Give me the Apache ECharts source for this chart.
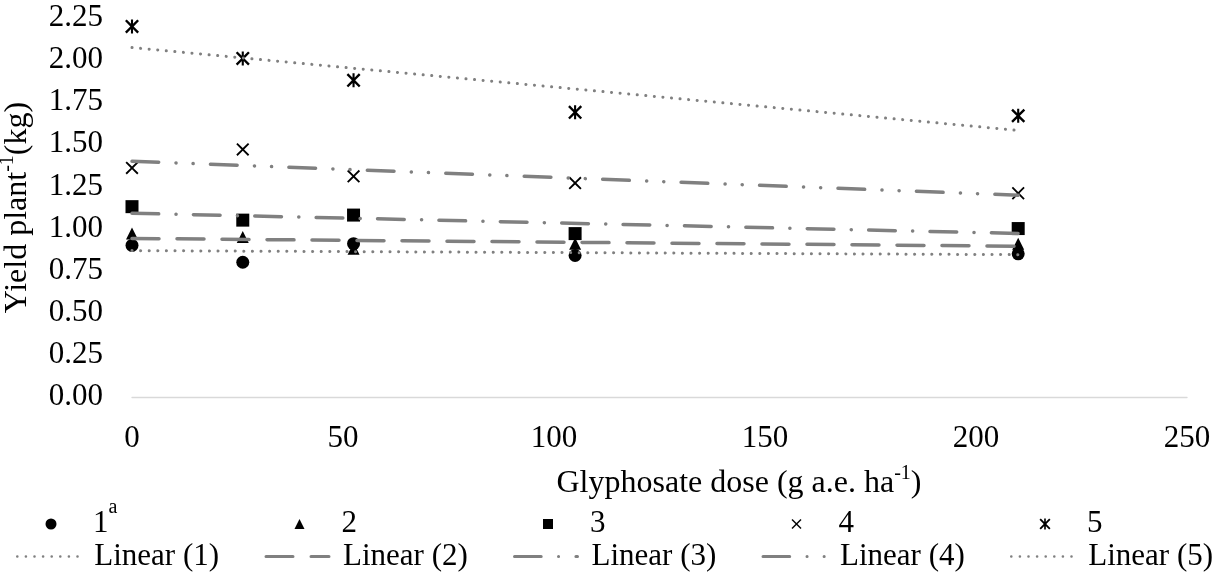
<!DOCTYPE html>
<html>
<head>
<meta charset="utf-8">
<title>Yield per plant vs glyphosate dose</title>
<script src="https://cdn.jsdelivr.net/npm/echarts@6/dist/echarts.min.js"></script>
<style>
  html, body { margin: 0; padding: 0; background: #ffffff; }
  #chart { width: 1228px; height: 575px; }
</style>
</head>
<body>
<div id="chart"></div>
<script>
// Glyphosate doses (g a.e. ha-1) and mean yield per plant (kg) for each group
const doses = [0, 26.25, 52.5, 105, 210];
const yield1 = [0.90, 0.80, 0.91, 0.84, 0.85];
const yield2 = [0.97, 0.95, 0.88, 0.91, 0.91];
const yield3 = [1.13, 1.05, 1.08, 0.97, 1.00];
const yield4 = [1.36, 1.47, 1.31, 1.27, 1.21];
const yield5 = [2.20, 2.01, 1.88, 1.69, 1.67];
const groupNames = ['1', '2', '3', '4', '5'];
const groupSuffix = ['a', '', '', '', ''];
const trendNames = ['Linear (1)', 'Linear (2)', 'Linear (3)', 'Linear (4)', 'Linear (5)'];
const xTicks = [0, 50, 100, 150, 200, 250];
const yTicks = [0, 0.25, 0.5, 0.75, 1.0, 1.25, 1.5, 1.75, 2.0, 2.25];

const groups = [yield1, yield2, yield3, yield4, yield5];
const FONT = '"Liberation Serif", "Times New Roman", serif';
const TREND_GREY = '#808080';

// Marker shapes: filled circle, triangle, square, a cross and a six-armed asterisk
const CROSS = 'path://M0,1L1,0L5,4L9,0L10,1L6,5L10,9L9,10L5,6L1,10L0,9L4,5Z';
const ASTERISK = 'path://M0,1.2L1.2,0L5,3.8L8.8,0L10,1.2L6.2,5L10,8.8L8.8,10L5,6.2L1.2,10L0,8.8L3.8,5Z M4.25,0L5.75,0L5.75,10L4.25,10Z';
const markerShapes = ['circle', 'triangle', 'rect', CROSS, ASTERISK];
const markerSizes = [13, 12, 13, 13, 14];
const legendMarkerSizes = [11, 10, 10, 10, 11];

// Trend line dash patterns: dotted, long dash, long dash-dot, long dash-dot-dot, dotted
const trendDash = [
  [0.1, 8.5],
  [27, 18],
  [26.7, 17.3, 0.1, 17.3],
  [26.7, 17.3, 0.1, 17, 0.1, 17.3],
  [0.1, 8.5]
];
const trendWidths = [3, 3.5, 3.5, 3.5, 3];

// Ordinary least-squares fit, used for the linear trend lines
function linearFit(xs, ys) {
  const n = xs.length;
  const mx = xs.reduce((a, b) => a + b, 0) / n;
  const my = ys.reduce((a, b) => a + b, 0) / n;
  let sxy = 0, sxx = 0;
  for (let i = 0; i < n; i++) {
    sxy += (xs[i] - mx) * (ys[i] - my);
    sxx += (xs[i] - mx) * (xs[i] - mx);
  }
  const slope = sxy / sxx;
  return { slope: slope, intercept: my - slope * mx };
}

const scatterSeries = groups.map((ys, i) => ({
  type: 'scatter',
  name: groupNames[i],
  data: doses.map((d, j) => [d, ys[j]]),
  symbol: markerShapes[i],
  symbolSize: markerSizes[i],
  itemStyle: { color: '#000000', opacity: 1 },
  emphasis: { disabled: true },
  silent: true,
  z: 2
}));

const trendSeries = groups.map((ys, i) => {
  const fit = linearFit(doses, ys);
  const x0 = doses[0], x1 = doses[doses.length - 1];
  return {
    type: 'line',
    name: trendNames[i],
    data: [[x0, fit.intercept + fit.slope * x0], [x1, fit.intercept + fit.slope * x1]],
    symbol: 'none',
    showSymbol: false,
    itemStyle: { color: TREND_GREY },
    lineStyle: { color: TREND_GREY, width: trendWidths[i], type: trendDash[i], cap: 'round' },
    emphasis: { disabled: true },
    silent: true,
    z: 3
  };
});

// Legend: five columns, markers on the first row, trend lines on the second
const colStart = [16, 264.5, 513, 761.5, 1010];
const sampleWidth = 63;
const textOffset = 77;
const row1Top = 498;
const row2Top = 541;

const legends = [];
groupNames.forEach((name, i) => {
  const s = legendMarkerSizes[i];
  const left = colStart[i] + 35 - s / 2;
  const pad = (colStart[i] + textOffset) - (left + s + 5);
  legends.push({
    data: [name],
    left: left,
    top: row1Top,
    padding: 0,
    itemWidth: s,
    itemHeight: s,
    selectedMode: false,
    // every entry carries a superscript slot so all five share one layout
    formatter: n => '{n|' + n + '}{s|' + (groupSuffix[i] || ' ') + '}',
    textStyle: {
      color: '#000', fontFamily: FONT, fontSize: 31, padding: [0, 0, 0, pad],
      rich: {
        n: { fontFamily: FONT, fontSize: 31, lineHeight: 52, color: '#000' },
        s: { fontFamily: FONT, fontSize: 20, lineHeight: 20, verticalAlign: 'top', color: '#000' }
      }
    }
  });
});
trendNames.forEach((name, i) => {
  legends.push({
    data: [name],
    left: colStart[i],
    top: row2Top,
    padding: 0,
    itemWidth: sampleWidth,
    itemHeight: 10,
    selectedMode: false,
    itemStyle: { opacity: 0 },
    lineStyle: { color: TREND_GREY, width: trendWidths[i] - 0.5, type: trendDash[i], cap: 'round' },
    textStyle: {
      color: '#000', fontFamily: FONT, fontSize: 31,
      padding: [0, 0, 0, textOffset - sampleWidth - 5]
    }
  });
});

const supRich = { s: { fontFamily: FONT, fontSize: 20, lineHeight: 20, verticalAlign: 'top', color: '#000' } };

const option = {
  backgroundColor: '#ffffff',
  animation: false,
  textStyle: { fontFamily: FONT },
  grid: { left: 132, right: 41, top: 18, bottom: 178, containLabel: false, outerBoundsMode: 'none' },
  xAxis: {
    type: 'value',
    min: xTicks[0],
    max: xTicks[xTicks.length - 1],
    interval: xTicks[1] - xTicks[0],
    axisLine: { show: true, lineStyle: { color: '#d9d9d9', width: 1.3 } },
    axisTick: { show: false },
    splitLine: { show: false },
    axisLabel: { color: '#000', fontFamily: FONT, fontSize: 31, margin: 26 },
    name: 'Glyphosate dose (g a.e. ha{s|-1})',
    nameLocation: 'middle',
    nameGap: 67,
    nameTextStyle: {
      color: '#000', fontFamily: FONT, fontSize: 32, lineHeight: 40,
      padding: [0, 0, 0, 159], rich: supRich
    }
  },
  yAxis: {
    type: 'value',
    min: yTicks[0],
    max: yTicks[yTicks.length - 1],
    interval: yTicks[1] - yTicks[0],
    axisLine: { show: false },
    axisTick: { show: false },
    splitLine: { show: false },
    axisLabel: {
      color: '#000', fontFamily: FONT, fontSize: 31, margin: 29,
      formatter: v => v.toFixed(2)
    },
    name: 'Yield plant{s|-1}(kg)',
    nameLocation: 'middle',
    nameGap: 77,
    nameTextStyle: { color: '#000', fontFamily: FONT, fontSize: 32, lineHeight: 40, rich: supRich }
  },
  legend: legends,
  series: scatterSeries.concat(trendSeries)
};

const chart = echarts.init(document.getElementById('chart'), null, { renderer: 'canvas' });
chart.setOption(option);
</script>
</body>
</html>
